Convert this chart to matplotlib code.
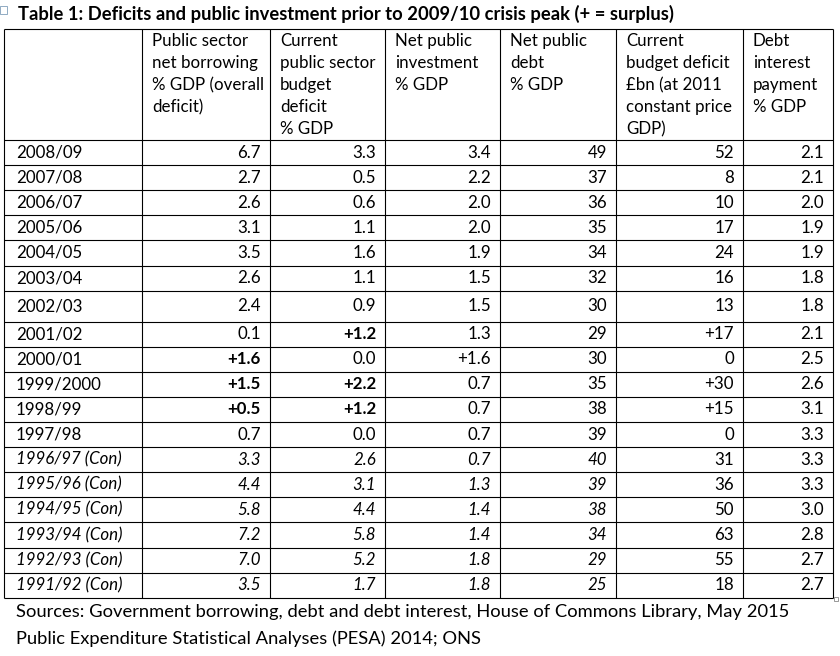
import matplotlib
matplotlib.use("Agg")
from matplotlib import pyplot as plt
from matplotlib.patches import Rectangle

plt.rcParams['font.family'] = ['Lato', 'DejaVu Sans']

title = "Table 1: Deficits and public investment prior to 2009/10 crisis peak (+ = surplus)"
headers = [
    [],
    ["Public sector", "net borrowing", "% GDP (overall", "deficit)"],
    ["Current", "public sector", "budget", "deficit", "% GDP"],
    ["Net public", "investment", "% GDP"],
    ["Net public", "debt", "% GDP"],
    ["Current", "budget deficit", "£bn (at 2011", "constant price", "GDP)"],
    ["Debt", "interest", "payment", "% GDP"],
]
years = ["2008/09", "2007/08", "2006/07", "2005/06", "2004/05", "2003/04", "2002/03",
         "2001/02", "2000/01", "1999/2000", "1998/99", "1997/98",
         "1996/97 (Con)", "1995/96 (Con)", "1994/95 (Con)", "1993/94 (Con)",
         "1992/93 (Con)", "1991/92 (Con)"]
net_borrowing = ["6.7", "2.7", "2.6", "3.1", "3.5", "2.6", "2.4", "0.1", "+1.6", "+1.5",
                 "+0.5", "0.7", "3.3", "4.4", "5.8", "7.2", "7.0", "3.5"]
current_deficit = ["3.3", "0.5", "0.6", "1.1", "1.6", "1.1", "0.9", "+1.2", "0.0", "+2.2",
                   "+1.2", "0.0", "2.6", "3.1", "4.4", "5.8", "5.2", "1.7"]
net_investment = ["3.4", "2.2", "2.0", "2.0", "1.9", "1.5", "1.5", "1.3", "+1.6", "0.7",
                  "0.7", "0.7", "0.7", "1.3", "1.4", "1.4", "1.8", "1.8"]
net_debt = ["49", "37", "36", "35", "34", "32", "30", "29", "30", "35", "38", "39",
            "40", "39", "38", "34", "29", "25"]
deficit_bn = ["52", "8", "10", "17", "24", "16", "13", "+17", "0", "+30", "+15", "0",
              "31", "36", "50", "63", "55", "18"]
debt_interest = ["2.1", "2.1", "2.0", "1.9", "1.9", "1.8", "1.8", "2.1", "2.5", "2.6",
                 "3.1", "3.3", "3.3", "3.3", "3.0", "2.8", "2.7", "2.7"]
# (row, column) cells printed in bold; Con rows italic in first five columns
bold_cells = {(8, 1), (9, 1), (10, 1), (7, 2), (9, 2), (10, 2)}
italic_cols = [0, 1, 2, 3, 4]
sources = ["Sources: Government borrowing, debt and debt interest, House of Commons Library, May 2015",
           "Public Expenditure Statistical Analyses (PESA) 2014; ONS"]

columns = [years, net_borrowing, current_deficit, net_investment, net_debt, deficit_bn, debt_interest]

fig = plt.figure(figsize=(8.4, 6.56), dpi=100)
ax = fig.add_axes([0, 0, 1, 1])
ax.set_xlim(0, 840)
ax.set_ylim(656, 0)
ax.axis('off')

col_edges = [4, 142, 270, 385, 500, 616, 743, 833]
top = 29
header_bottom = 140
row_edges = [header_bottom]
for i in range(len(years)):
    h = 31 if years[i] == "2002/03" else 25.1
    row_edges.append(row_edges[-1] + h)

lw = 0.8
ax.hlines([top] + row_edges, col_edges[0], col_edges[-1], color='black', lw=lw)
ax.vlines(col_edges, top, row_edges[-1], color='black', lw=lw)

# word table handles
ax.add_patch(Rectangle((0, 6), 7, 8, fill=False, ec='#7f9db9', lw=0.6))
ax.add_patch(Rectangle((834, 597), 4, 4, fill=False, ec='#888888', lw=0.6))

fs = 12.2
ax.text(18, 14, title, fontsize=13.2, fontweight='bold', va='center', ha='left')

for c, lines in enumerate(headers):
    for k, line in enumerate(lines):
        ax.text(col_edges[c] + 10, top + 12 + 22 * k, line, fontsize=fs, va='center', ha='left')

for c, col in enumerate(columns):
    for r, val in enumerate(col):
        yc = (row_edges[r] + row_edges[r + 1]) / 2
        style = 'italic' if ("(Con)" in years[r] and c in italic_cols) else 'normal'
        weight = 'bold' if (r, c) in bold_cells else 'normal'
        if c == 0:
            ax.text(col_edges[0] + 12, yc, val, fontsize=fs, va='center', ha='left',
                    style=style, fontweight=weight)
        else:
            ax.text(col_edges[c + 1] - 9, yc, val, fontsize=fs, va='center', ha='right',
                    style=style, fontweight=weight)

for k, line in enumerate(sources):
    ax.text(16, 612 + 27 * k, line, fontsize=13.2, va='center', ha='left')

fig.savefig("out.png", dpi=100)
